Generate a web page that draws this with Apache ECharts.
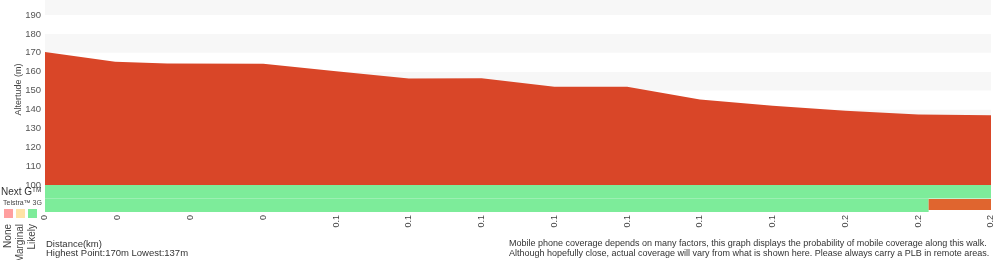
<!DOCTYPE html>
<html>
<head>
<meta charset="utf-8">
<script src="https://cdn.jsdelivr.net/npm/echarts@6/dist/echarts.min.js"></script>
<style>
html,body{margin:0;padding:0;background:#fff;}
#c{width:1000px;height:260px;}
</style>
</head>
<body>
<div id="c"></div>
<script>
// ---- data ----
const totalDistance = 182; // metres
const xTickLabels = ['0','0','0','0','0.1','0.1','0.1','0.1','0.1','0.1','0.1','0.2','0.2','0.2'];
const profileDistance = [0, 13.5, 23.5, 42, 56, 70, 84, 98, 112, 126, 140, 154, 168, 182];
const profileAltitude = [170.4, 165.3, 164.4, 164.2, 160.2, 156.4, 156.5, 152.0, 152.0, 145.3, 142.0, 139.3, 137.3, 136.9];
const nextGStart = [0];
const nextGEnd = [182];
const nextGLevel = ['likely'];
const telstra3GStart = [0, 170];
const telstra3GEnd = [170, 182];
const telstra3GLevel = ['likely', 'other'];
const yTicks = [100, 110, 120, 130, 140, 150, 160, 170, 180, 190];

const levelColor = { none: '#ff9f9f', marginal: '#ffe3a6', likely: '#7dec9a', other: '#e0652f' };

const profile = profileDistance.map((d, i) => [d, profileAltitude[i]]);
const coverage = [];
telstra3GStart.forEach((s, i) => coverage.push([s, telstra3GEnd[i], 0, telstra3GLevel[i]]));
nextGStart.forEach((s, i) => coverage.push([s, nextGEnd[i], 1, nextGLevel[i]]));

const step = totalDistance / (xTickLabels.length - 1);
const FONT = '"Liberation Sans", Arial, Helvetica, sans-serif';
const chart = echarts.init(document.getElementById('c'), null, { renderer: 'canvas' });

chart.setOption({
  animation: false,
  backgroundColor: '#fff',
  grid: [
    { left: 45, right: 9, top: 0, height: 185, containLabel: false, outerBoundsMode: 'none' },
    { left: 45, right: 9, top: 185, height: 27, containLabel: false, outerBoundsMode: 'none' }
  ],
  xAxis: [
    { gridIndex: 0, type: 'value', min: 0, max: totalDistance, interval: step,
      axisLine: { show: false }, axisTick: { show: false }, axisLabel: { show: false }, splitLine: { show: false } },
    { gridIndex: 1, type: 'value', min: 0, max: totalDistance, interval: step,
      axisLine: { show: false }, axisTick: { show: false }, splitLine: { show: false },
      axisLabel: { rotate: 90, margin: 3, fontSize: 9, color: '#444', fontFamily: FONT,
        showMinLabel: true, showMaxLabel: true,
        formatter: v => xTickLabels[Math.round(v / step)] } }
  ],
  yAxis: [
    { gridIndex: 0, type: 'value', min: 100, max: 198, interval: 10,
      axisLine: { show: false }, axisTick: { show: false }, splitLine: { show: false },
      splitArea: { show: true, areaStyle: { color: ['#ffffff', '#f7f7f7'] } },
      axisLabel: { margin: 4, fontSize: 9.5, color: '#555', fontFamily: FONT,
        showMaxLabel: false,
        formatter: v => (yTicks.indexOf(v) >= 0 ? String(v) : '') },
      name: 'Altertude (m)', nameLocation: 'middle', nameRotate: 90, nameGap: 22, nameMoveOverlap: false,
      nameTextStyle: { fontSize: 9, color: '#444', fontFamily: FONT, padding: [0, 0, 0, 6] } },
    { gridIndex: 1, type: 'value', min: 0, max: 2, show: false }
  ],
  series: [
    { type: 'line', xAxisIndex: 0, yAxisIndex: 0, data: profile, showSymbol: false, symbol: 'none',
      lineStyle: { width: 0 }, areaStyle: { color: '#d94628', opacity: 1, origin: 'start' }, z: 2 },
    { type: 'custom', xAxisIndex: 1, yAxisIndex: 1, data: coverage,
      encode: { x: [0, 1], y: 2 },
      renderItem: function (params, api) {
        const row = api.value(2);
        const lvl = coverage[params.dataIndex][3];
        const p0 = api.coord([api.value(0), row + 1]);
        const p1 = api.coord([api.value(1), row]);
        let top = p0[1], bottom = p1[1];
        if (lvl !== 'likely') { top += 0.5; bottom -= 2; }
        return { type: 'rect', shape: { x: p0[0], y: top, width: p1[0] - p0[0], height: bottom - top },
                 style: { fill: levelColor[lvl] } };
      } }
  ],
  graphic: [
    { type: 'text', left: 1, top: 187, z: 10,
      style: { text: 'Next G{s|TM}', fontSize: 10, fill: '#333', fontFamily: FONT,
        rich: { s: { fontSize: 6.5, verticalAlign: 'top', fill: '#333', fontFamily: FONT } } } },
    { type: 'text', left: 3, top: 200, z: 10,
      style: { text: 'Telstra™ 3G', fontSize: 7, fill: '#444', fontFamily: FONT } },
    { type: 'rect', shape: { x: 4, y: 209, width: 9, height: 9 }, style: { fill: levelColor.none } },
    { type: 'rect', shape: { x: 16, y: 209, width: 9, height: 9 }, style: { fill: levelColor.marginal } },
    { type: 'rect', shape: { x: 28, y: 209, width: 9, height: 9 }, style: { fill: levelColor.likely } },
    { type: 'text', x: 8.5, y: 224, rotation: Math.PI / 2,
      style: { text: 'None', fontSize: 10, fill: '#444', fontFamily: FONT, align: 'right', verticalAlign: 'middle' } },
    { type: 'text', x: 20.5, y: 224, rotation: Math.PI / 2,
      style: { text: 'Marginal', fontSize: 10, fill: '#444', fontFamily: FONT, align: 'right', verticalAlign: 'middle' } },
    { type: 'text', x: 32.5, y: 224, rotation: Math.PI / 2,
      style: { text: 'Likely', fontSize: 10, fill: '#444', fontFamily: FONT, align: 'right', verticalAlign: 'middle' } },
    { type: 'text', x: 46, y: 244,
      style: { text: 'Distance(km)', fontSize: 9.5, fill: '#333', fontFamily: FONT, verticalAlign: 'middle' } },
    { type: 'text', x: 46, y: 253.5,
      style: { text: 'Highest Point:170m Lowest:137m', fontSize: 9.5, fill: '#333', fontFamily: FONT, verticalAlign: 'middle' } },
    { type: 'text', x: 509, y: 243.5,
      style: { text: 'Mobile phone coverage depends on many factors, this graph displays the probability of mobile coverage along this walk.', fontSize: 9, fill: '#333', fontFamily: FONT, verticalAlign: 'middle' } },
    { type: 'text', x: 509, y: 254,
      style: { text: 'Although hopefully close, actual coverage will vary from what is shown here. Please always carry a PLB in remote areas.', fontSize: 9, fill: '#333', fontFamily: FONT, verticalAlign: 'middle' } }
  ]
});
</script>
</body>
</html>
